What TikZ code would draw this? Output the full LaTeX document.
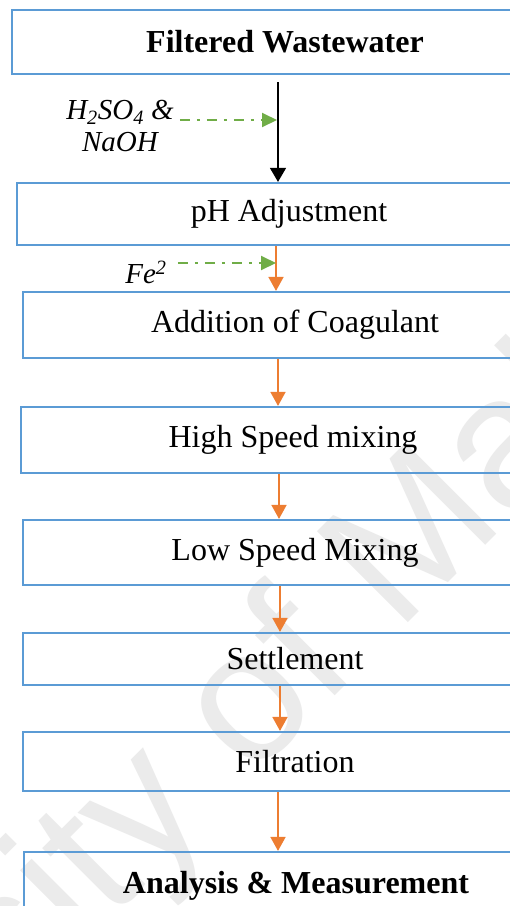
\documentclass[tikz,border=0pt]{standalone}
\usepackage{fontspec}
\setmainfont{Liberation Serif}
\newfontfamily\wmfont{Liberation Sans}
\usetikzlibrary{arrows.meta}
\definecolor{boxblue}{RGB}{91,155,213}
\definecolor{flowor}{RGB}{237,125,49}
\definecolor{dosegreen}{RGB}{112,173,71}
\definecolor{wmgray}{RGB}{235,235,235}
\tikzset{
  stepbox/.style={draw=boxblue, line width=2.2pt, rectangle, minimum width=544pt,
    inner sep=0pt, font=\fontsize{32}{38}\selectfont},
  flow/.style={draw=flowor, line width=1.8pt, -{Triangle[length=14pt,width=15pt]}},
  feed/.style={draw=black, line width=1.3pt, -{Triangle[length=14pt,width=16pt]}},
  dose/.style={draw=dosegreen, line width=2pt, dash pattern=on 10pt off 7pt on 3pt off 7pt,
    -{Triangle[length=15pt,width=14pt]}},
  dosetext/.style={font=\fontsize{29}{32}\selectfont\itshape, align=center, inner sep=0pt},
  wmark/.style={rotate=45, inner sep=0pt, text=wmgray, font=\fontsize{187}{187}\wmfont}
}
\begin{document}
\begin{tikzpicture}[x=1pt,y=-1pt]
\useasboundingbox (0,0) rectangle (510,906);
\clip (0,0) rectangle (510,906);
\fill[white] (0,0) rectangle (510,906);

% faint watermark behind the flow chart
\node[wmark, anchor=base east] (wm1) at (213.5,817.5) {University};
\node[wmark, anchor=base west] (wm2) at (250.3,780.7) {of Malaya};

% process steps
\node[stepbox, minimum width=546pt, minimum height=64pt,
  font=\fontsize{32}{38}\selectfont\bfseries] (fw) at (285,42) {Filtered Wastewater};
\node[stepbox, minimum height=62pt] (ph) at (289,214) {pH Adjustment};
\node[stepbox, minimum height=66pt] (co) at (295,325) {Addition of Coagulant};
\node[stepbox, minimum height=66pt] (hs) at (293,440) {High Speed mixing};
\node[stepbox, minimum height=65pt] (ls) at (295,552.5) {Low Speed Mixing};
\node[stepbox, minimum height=52pt] (se) at (295,659) {Settlement};
\node[stepbox, minimum height=59pt] (fi) at (295,761.5) {Filtration};
\node[stepbox, minimum height=68pt,
  font=\fontsize{32}{38}\selectfont\bfseries] (am) at (296,886) {Analysis \& Measurement};

% vertical positions of the connectors
\coordinate (x1) at (278,0);
\coordinate (x2) at (276,0);
\coordinate (x3) at (278,0);
\coordinate (x4) at (279,0);
\coordinate (x5) at (280,0);
\coordinate (x6) at (280,0);
\coordinate (x7) at (278,0);

\draw[feed, shorten <=7pt] (fw.south -| x1) -- (ph.north -| x1);
\draw[flow] (ph.south -| x2) -- (co.north -| x2);
\draw[flow] (co.south -| x3) -- (hs.north -| x3);
\draw[flow] (hs.south -| x4) -- (ls.north -| x4);
\draw[flow] (ls.south -| x5) -- (se.north -| x5);
\draw[flow] (se.south -| x6) -- (fi.north -| x6);
\draw[flow] (fi.south -| x7) -- (am.north -| x7);

% chemical dosing
\node[dosetext] (acid) at (120,126) {H\textsubscript{2}SO\textsubscript{4} \&\\NaOH};
\coordinate (d1) at (277,120);
\draw[dose, shorten <=6pt] (acid.east |- d1) -- (d1);

\node[dosetext] (fe) at (146,272) {Fe\textsuperscript{2}};
\coordinate (d2) at (276,263);
\draw[dose, shorten <=11pt] (fe.east |- d2) -- (d2);
\end{tikzpicture}
\end{document}
